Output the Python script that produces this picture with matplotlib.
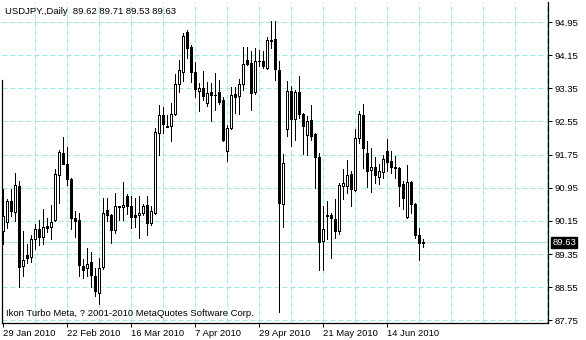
import matplotlib
matplotlib.use("Agg")
import matplotlib.pyplot as plt
import numpy as np

# daily USDJPY bars, 29 Jan 2010 .. 25 Jun 2010
opens = [89.91, 90.13, 90.62, 90.37, 90.98, 89.06, 89.32, 89.29, 89.71, 89.95,
         89.77, 90.02, 90.01, 90.16, 91.25, 91.79, 91.52, 91.16, 90.22, 90.17,
         89.06, 89.02, 89.15, 88.81, 88.41, 89.04, 90.41, 90.29, 89.92, 90.48,
         90.48, 90.75, 90.51, 90.29, 90.29, 90.33, 90.54, 90.09, 90.35, 92.26,
         92.70, 92.44, 92.43, 92.73, 93.45, 93.75, 94.70, 94.35, 93.75, 93.29,
         93.36, 92.99, 93.25, 93.20, 93.25, 93.06, 91.83, 92.39, 93.22, 93.16,
         93.46, 94.04, 93.96, 93.25, 94.00, 94.02, 93.84, 94.52, 94.54, 93.80,
         90.55, 92.37, 93.29, 92.62, 93.25, 92.74, 92.23, 92.59, 92.25, 91.70,
         89.66, 90.26, 90.28, 90.20, 89.90, 90.99, 90.99, 91.27, 90.89, 92.14,
         92.70, 91.78, 91.38, 91.46, 91.22, 91.33, 91.83, 91.59, 91.46, 91.43,
         91.03, 90.25, 91.10, 90.56, 89.80, 89.62]
highs = [90.93, 90.69, 90.92, 91.31, 91.12, 89.91, 89.59, 89.80, 90.07, 90.17,
         90.43, 90.23, 90.53, 91.40, 91.85, 92.18, 91.93, 91.18, 90.39, 90.35,
         89.24, 89.50, 89.41, 89.02, 89.25, 90.70, 90.71, 90.31, 90.82, 90.52,
         91.08, 90.80, 90.74, 90.70, 90.74, 90.55, 90.74, 90.50, 92.38, 92.95,
         92.89, 92.70, 93.00, 93.69, 94.03, 94.68, 94.76, 94.40, 93.99, 93.47,
         93.77, 93.49, 93.47, 93.73, 93.56, 93.14, 92.47, 93.38, 93.38, 93.57,
         94.34, 94.34, 94.24, 94.32, 94.27, 94.24, 94.60, 94.98, 94.98, 94.00,
         91.77, 93.53, 93.41, 93.32, 93.65, 92.76, 92.67, 92.95, 92.27, 91.80,
         90.51, 90.63, 90.34, 90.68, 91.07, 91.41, 91.61, 91.35, 92.36, 92.81,
         92.97, 92.08, 91.92, 91.68, 91.52, 91.74, 92.12, 91.84, 91.72, 91.45,
         91.11, 91.49, 91.12, 90.59, 89.98, 89.71]
lows = [89.59, 89.99, 90.27, 90.15, 88.56, 88.82, 89.14, 89.16, 89.46, 89.57,
        89.59, 89.88, 89.71, 90.14, 90.58, 91.53, 91.02, 89.95, 89.77, 88.82,
        88.78, 88.82, 88.56, 88.33, 88.15, 88.98, 90.15, 89.61, 89.85, 90.17,
        90.17, 90.32, 89.97, 90.01, 89.73, 90.29, 89.81, 90.05, 90.32, 91.73,
        92.28, 92.41, 92.09, 92.71, 93.25, 93.53, 94.07, 93.51, 93.13, 92.81,
        93.07, 92.92, 92.55, 92.83, 92.98, 92.09, 91.59, 92.37, 92.75, 92.74,
        93.32, 93.92, 92.83, 93.22, 93.88, 93.84, 93.81, 94.32, 93.54, 87.96,
        90.01, 92.19, 91.95, 92.11, 92.63, 91.77, 91.75, 92.11, 90.94, 88.97,
        88.97, 89.71, 89.25, 89.74, 89.84, 90.67, 90.83, 90.52, 90.87, 92.02,
        91.42, 90.97, 90.85, 91.07, 91.05, 91.19, 91.35, 91.30, 91.19, 90.51,
        90.44, 90.22, 90.33, 89.74, 89.20, 89.53]
closes = [90.27, 90.62, 90.39, 91.02, 89.04, 89.21, 89.25, 89.71, 89.95, 89.76,
          90.00, 89.98, 90.13, 91.27, 91.82, 91.53, 91.15, 90.21, 90.14, 89.08,
          88.96, 89.12, 88.84, 88.45, 89.02, 90.33, 90.29, 89.93, 90.51, 90.51,
          90.54, 90.50, 90.25, 90.25, 90.34, 90.51, 90.09, 90.39, 92.29, 92.70,
          92.48, 92.41, 92.72, 93.45, 93.79, 94.62, 94.33, 93.75, 93.33, 93.36,
          93.17, 93.23, 93.18, 93.18, 93.01, 92.11, 92.39, 93.19, 93.14, 93.46,
          93.94, 93.94, 93.24, 94.02, 94.01, 93.90, 94.51, 94.50, 93.82, 90.58,
          91.54, 93.29, 92.62, 93.25, 92.73, 92.43, 92.57, 92.21, 91.68, 89.65,
          89.96, 90.30, 90.22, 89.90, 91.01, 91.07, 91.25, 90.93, 92.14, 92.73,
          91.90, 91.35, 91.46, 91.25, 91.35, 91.64, 91.56, 91.46, 91.43, 90.99,
          90.71, 91.10, 90.56, 89.80, 89.62, 89.63]

date_labels = ["29 Jan 2010", "22 Feb 2010", "16 Mar 2010", "7 Apr 2010",
               "29 Apr 2010", "21 May 2010", "14 Jun 2010"]
price_levels = [87.75, 88.55, 89.35, 90.15, 90.95, 91.75, 92.55, 93.35, 94.15, 94.95]
last_price = 89.63

W, H = 586, 340
FONT = "Liberation Sans"
GRID = "#9fe6e6"
PX = 0.72  # one pixel in points

fig = plt.figure(figsize=(W / 100, H / 100), dpi=100)
fig.patch.set_facecolor("white")
ax = fig.add_axes([2 / W, 17 / H, 546 / W, 321 / H])

n = len(closes)
x = np.arange(n)
o = np.array(opens); c = np.array(closes)

# grid
for p in price_levels:
    ax.axhline(p, color=GRID, lw=PX, dashes=(5, 3), zorder=0)
for xb in range(8, 137, 8):
    ax.axvline(xb, color=GRID, lw=PX, dashes=(5, 3), zorder=0)
ax.axhline(last_price, color="#a8e0e0", lw=PX, zorder=1)

# candles
ax.vlines(x, lows, highs, color="black", lw=PX, zorder=2, antialiased=False)
up = c >= o
ax.bar(x, np.abs(c - o), bottom=np.minimum(o, c), width=0.6,
       color=np.where(up, "white", "black"), edgecolor="black",
       linewidth=PX, zorder=3, antialiased=False)

ax.set_xlim(-0.25, 136.25)
ax.set_ylim(87.685, 95.433)

ax.spines["top"].set_visible(False)
for s in ["left", "right", "bottom"]:
    ax.spines[s].set_linewidth(0.9)
ax.spines["left"].set_bounds(87.685, 93.55)

ax.yaxis.tick_right()
ax.set_yticks(price_levels)
ax.set_yticklabels([f"{p:.2f}" for p in price_levels], fontsize=6.8, family=FONT)
ax.tick_params(axis="y", length=3, width=PX, pad=2)

ax.set_xticks(range(0, 16 * len(date_labels), 16))
ax.set_xticklabels(date_labels, fontsize=6.8, family=FONT, ha="left")
ax.tick_params(axis="x", length=3, width=PX, pad=1.5)

# last price tag
ax.annotate(f"{last_price:.2f}", xy=(1, last_price), xycoords=("axes fraction", "data"),
            xytext=(3, 0), textcoords="offset points", va="center", ha="left",
            fontsize=6.8, family=FONT, color="white",
            bbox=dict(boxstyle="square,pad=0.15", fc="black", ec="black"))

fig.text(5 / W, 1 - 12 / H, "USDJPY.,Daily  89.62 89.71 89.53 89.63",
         fontsize=6.8, family=FONT, va="center", ha="left")
ax.text(4 / 546, 1 - (313 - 2) / 321, "Ikon Turbo Meta, ? 2001-2010 MetaQuotes Software Corp.",
        transform=ax.transAxes, fontsize=6.8, family=FONT, va="center", ha="left")

fig.savefig("out.png", dpi=100, facecolor="white")
